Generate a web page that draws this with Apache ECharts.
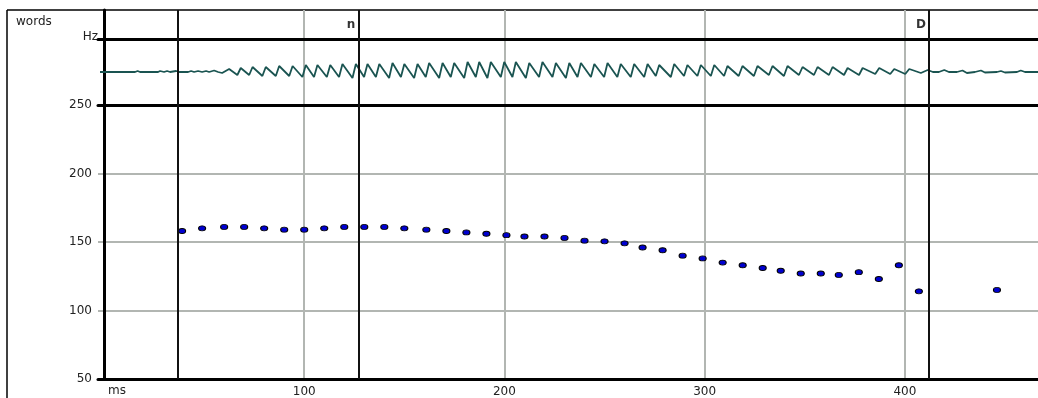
<!DOCTYPE html>
<html lang="en" style="height: 100%">
<head>
<meta charset="utf-8">
<title>Pitch track</title>
</head>
<body style="height: 100%; margin: 0; background: #fff">
<div id="container" style="width: 1038px; height: 398px"></div>

<script type="text/javascript" src="https://cdn.jsdelivr.net/npm/echarts@6/dist/echarts.min.js"></script>

<script type="text/javascript">

// Data
var msTicks = [100, 200, 300, 400];

// segment boundaries (ms) and the labels that end at them
var boundaries = [37, 127, 412];
var wordNames = ['n', 'D'];
var wordEnds = [127, 412];

// pitch track
var pitchMs = [39, 49, 60, 70, 80, 90, 100, 110, 120, 130, 140, 150, 161, 171, 181, 191, 201,
    210, 220, 230, 240, 250, 260, 269, 279, 289, 299, 309, 319, 329, 338, 348, 358, 367, 377,
    387, 397, 407, 446];
var pitchHz = [158, 160, 161, 161, 160, 159, 159, 160, 161, 161, 161, 160, 159, 158, 157, 156, 155,
    154, 154, 153, 151, 150.5, 149, 146, 144, 140, 138, 135, 133, 131, 129, 127, 127, 126, 128,
    123, 133, 114, 115];

// waveform, [ms, amplitude]
var wavePoints = [
    [-2, 0], [15.5, 0], [16.8, 1], [18, 0], [27, 0], [28, 1], [30, 0], [31.5, 1], [33, 0], [36, 1],
    [37.5, 0], [42, 0], [43.5, 1], [45, 0], [47, 1], [49, 0], [51, 1], [52.5, 0], [55, 1.5], [57, 0],
    [59, -1], [62.5, 3], [66.6, -3], [68.3, 4], [72.5, -3], [74.2, 5], [79.1, -4], [80.8, 5],
    [85.8, -4], [87.5, 6], [92.5, -4], [94.2, 6], [99.1, -5], [100.8, 7], [104.9, -5], [106.6, 7],
    [111.3, -5], [113, 7], [117.4, -5], [119.1, 8], [124.1, -6], [125.8, 8], [129.9, -5], [131.6, 8],
    [135.8, -5], [137.5, 8], [142.4, -6], [144.1, 9], [148.3, -5], [150, 8], [154.9, -6], [156.6, 8],
    [160.7, -5], [162.4, 9], [167.4, -6], [169.1, 9], [173.2, -5], [174.9, 9], [179.9, -6],
    [181.6, 10], [185.7, -5], [187.4, 10], [191.5, -6], [193.2, 10], [198.2, -5], [199.9, 10],
    [204, -5], [205.7, 10], [210.7, -6], [212.4, 9], [217.3, -5], [219, 10], [224, -5], [225.7, 9],
    [230.7, -6], [232.4, 9], [236.5, -5], [238.2, 9], [243.2, -5], [244.9, 8], [249.8, -5],
    [251.5, 9], [256.4, -5], [258.1, 8], [263.1, -5], [264.8, 8], [269.8, -5], [271.5, 8],
    [275.6, -4], [277.3, 7], [283.1, -5], [284.8, 8], [289.7, -4], [291.4, 7], [296.4, -4],
    [298.1, 7], [303.1, -4], [304.8, 7], [309.7, -4], [311.4, 6], [317, -4], [318.9, 6], [324.6, -4],
    [326.4, 6], [332.1, -3], [333.9, 6], [339.6, -4], [341.4, 6], [347.1, -3], [348.9, 5],
    [354.6, -3], [356.4, 5], [362.1, -3], [363.9, 5], [369.6, -3], [371.4, 4], [377.1, -3],
    [378.9, 4], [385.2, -2], [387.2, 4], [392.7, -2], [394.7, 3], [400.2, -2], [402.2, 3], [408, -1],
    [411.4, 2], [414, 0], [417, 0], [419.7, 2], [422, 0], [426, 0], [428.8, 1.5], [431, -1], [435, 0],
    [438, 1.5], [440, -0.5], [446, 0], [448, 1], [450, -0.5], [456, 0], [457.9, 1.5], [460, 0],
    [467, 0]
];

var dom = document.getElementById('container');
var myChart = echarts.init(dom);

var font = 'DejaVu Sans';
var gray = '#b2b6b2';

function boundaryLines() {
    return {
        silent: true,
        symbol: 'none',
        animation: false,
        label: { show: false },
        lineStyle: { color: '#111', width: 2, type: 'solid' },
        data: boundaries.map(function (t) { return { xAxis: t }; })
    };
}

function msAxis(idx, labels) {
    return {
        type: 'value',
        gridIndex: idx,
        min: -3,
        max: 466.5,
        name: labels ? 'ms' : '',
        nameLocation: 'start',
        nameGap: -10,
        nameTextStyle: { fontFamily: font, fontSize: 12, color: '#222', align: 'left', verticalAlign: 'top', padding: [6, 0, 0, 0] },
        axisTick: { show: false, customValues: msTicks },
        axisLabel: { show: labels, customValues: msTicks, margin: 7, fontFamily: font, fontSize: 12, color: '#222' },
        splitLine: { show: true, lineStyle: { color: gray, width: 2 } },
        axisLine: { show: true, onZero: false, lineStyle: { color: '#000', width: 3 } }
    };
}

var pitchData = pitchMs.map(function (t, i) { return [t, pitchHz[i]]; });
var wordData = wordNames.map(function (n, i) { return { name: n, value: [wordEnds[i], 0.5] }; });

option = {
    animation: false,
    grid: [
        { left: 98, right: 0, top: 10, height: 29 },
        { left: 98, right: 0, top: 39, height: 66 },
        { left: 98, right: 0, top: 105, height: 276 }
    ],
    xAxis: [msAxis(0, false), msAxis(1, false), msAxis(2, true)],
    yAxis: [
        {
            type: 'value', gridIndex: 0, min: 0, max: 1,
            axisLine: { show: true, lineStyle: { color: '#000', width: 3 } },
            axisTick: { show: false }, axisLabel: { show: false }, splitLine: { show: false }
        },
        {
            type: 'value', gridIndex: 1, min: -33, max: 33,
            name: 'Hz',
            nameLocation: 'end',
            nameGap: 2,
            nameTextStyle: { fontFamily: font, fontSize: 12, color: '#222', align: 'right', verticalAlign: 'middle', padding: [0, 6, 0, 0] },
            axisLine: { show: true, lineStyle: { color: '#000', width: 3 } },
            axisTick: { show: false }, axisLabel: { show: false }, splitLine: { show: false }
        },
        {
            type: 'value', gridIndex: 2, min: 50, max: 250, interval: 50,
            axisLine: { show: true, lineStyle: { color: '#000', width: 3 } },
            axisTick: { show: false },
            axisLabel: { margin: 6, fontFamily: font, fontSize: 12, color: '#222' },
            splitLine: { show: true, lineStyle: { color: gray, width: 2 } }
        }
    ],
    graphic: [
        { type: 'line', shape: { x1: 7, y1: 10, x2: 1038, y2: 10 }, style: { stroke: '#000', lineWidth: 1.5 } },
        { type: 'line', shape: { x1: 7, y1: 10, x2: 7, y2: 398 }, style: { stroke: '#000', lineWidth: 1.5 } },
        { type: 'text', left: 16, top: 16, style: { text: 'words', fontFamily: font, fontSize: 12, fill: '#222' } }
    ],
    series: [
        {
            type: 'scatter',
            xAxisIndex: 0,
            yAxisIndex: 0,
            symbolSize: 0,
            silent: true,
            data: wordData,
            label: {
                show: true, formatter: '{b}', position: 'left', distance: 3,
                fontFamily: font, fontSize: 12, fontWeight: 'bold', color: '#000'
            },
            markLine: boundaryLines()
        },
        {
            type: 'line',
            xAxisIndex: 1,
            yAxisIndex: 1,
            showSymbol: false,
            silent: true,
            data: wavePoints,
            lineStyle: { color: '#1a5451', width: 1.8 },
            markLine: boundaryLines()
        },
        {
            type: 'scatter',
            xAxisIndex: 2,
            yAxisIndex: 2,
            symbol: 'circle',
            symbolSize: [7, 5],
            silent: true,
            data: pitchData,
            itemStyle: { color: '#0000d0', borderColor: '#000', borderWidth: 1, opacity: 1 },
            markLine: boundaryLines()
        }
    ]
};

if (option && typeof option === 'object') {
    myChart.setOption(option);
}

window.addEventListener('resize', myChart.resize);
</script>
</body>
</html>
